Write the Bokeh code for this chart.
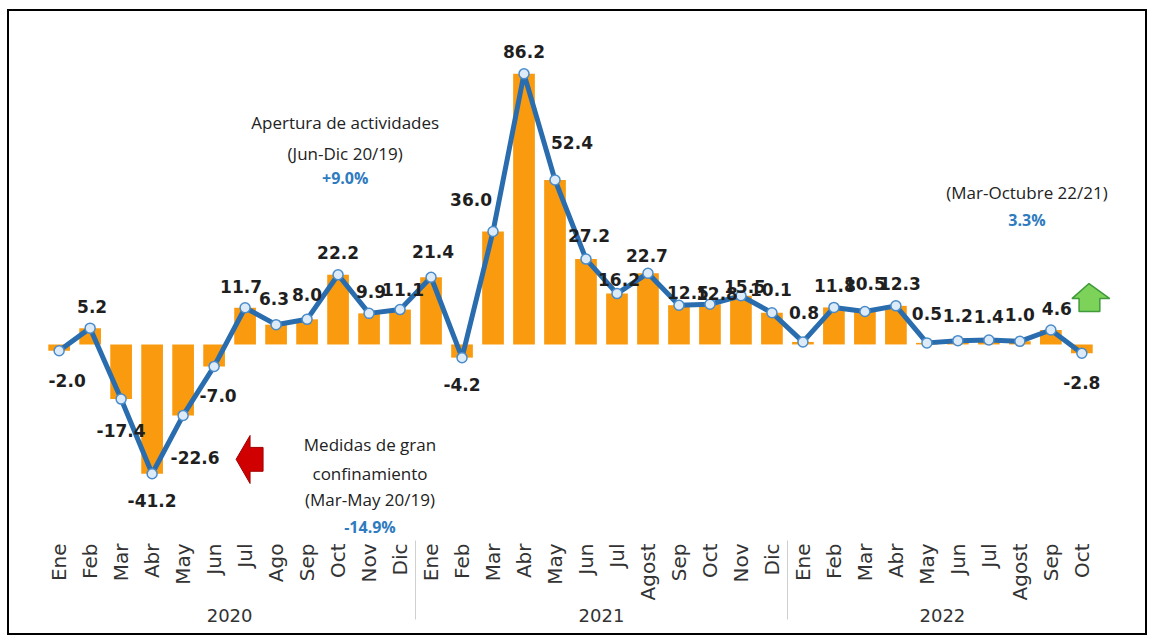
import math
from bokeh.plotting import figure
from bokeh.models import FactorRange, ColumnDataSource, Label, Range1d
from bokeh.embed import file_html
from bokeh.resources import INLINE
from bokeh.core.properties import value

# ---------------- data ----------------
years = ["2020"] * 12 + ["2021"] * 12 + ["2022"] * 10
months = ["Ene", "Feb", "Mar", "Abr", "May", "Jun", "Jul", "Ago", "Sep", "Oct", "Nov", "Dic",
          "Ene", "Feb", "Mar", "Abr", "May", "Jun", "Jul", "Agost", "Sep", "Oct", "Nov", "Dic",
          "Ene", "Feb", "Mar", "Abr", "May", "Jun", "Jul", "Agost", "Sep", "Oct"]
growth = [-2.0, 5.2, -17.4, -41.2, -22.6, -7.0, 11.7, 6.3, 8.0, 22.2, 9.9, 11.1,
          21.4, -4.2, 36.0, 86.2, 52.4, 27.2, 16.2, 22.7, 12.5, 12.8, 15.5, 10.1,
          0.8, 11.8, 10.5, 12.3, 0.5, 1.2, 1.4, 1.0, 4.6, -2.8]

# label nudges in screen pixels (positive dy = downwards)
label_dx = [8, 2, 0, 0, 12, 4, -4, -2, 0, 0, 2, 3,
            2, 0, -22, 0, 17, 3, 2, -1, 9, 7, 4, -1,
            1, 1, 0, 4, 0, 0, 0, 0, 6, 0]
label_dy = [30, -22, 31, 27, 42, 29, -21, -26, -25, -22, -22, -20,
            -26, 27, -32, -22, -37, -24, -14, -18, -13, -11, -9, -23,
            -29, -22, -28, -22, -29, -25, -24, -27, -22, 29]

factors = list(zip(years, months))
src = ColumnDataSource(dict(
    x=factors,
    v=growth,
    txt=[f"{g:.1f}" for g in growth],
    dx=label_dx,
    dy=label_dy,
))

# ---------------- figure ----------------
p = figure(
    x_range=FactorRange(factors=factors, factor_padding=0, group_padding=0,
                        range_padding=0.65, range_padding_units="absolute"),
    y_range=Range1d(-61.5, 103.2),
    width=1140, height=626,
    output_backend="svg", toolbar_location=None, y_axis_location=None,
    min_border_left=14, min_border_right=32, min_border_top=9, min_border_bottom=100,
)
p.styles = {"border": "2px solid black", "margin-left": "7px", "margin-top": "9px"}
p.outline_line_color = None
p.xgrid.visible = False
p.ygrid.visible = False
p.background_fill_color = "white"
p.border_fill_color = "white"

ax = p.xaxis[0]
ax.axis_line_color = None
ax.major_tick_line_color = None
ax.minor_tick_line_color = None
ax.major_tick_out = 0
ax.major_label_orientation = math.pi / 2
ax.major_label_standoff = 6
ax.major_label_text_font = "DejaVu Sans"
ax.major_label_text_font_size = "20px"
ax.major_label_text_color = "#333333"
ax.group_text_font = "DejaVu Sans"
ax.group_text_font_size = "18px"
ax.group_text_font_style = "normal"
ax.group_text_color = "#333333"
ax.separator_line_color = "#cfcfcf"
ax.separator_line_width = 1

# bars
p.vbar(x="x", top="v", bottom=0, width=0.7, source=src, fill_color="#FA9B0F", line_color=None)

# line + markers
p.line(x="x", y="v", source=src, line_color="#2A6DAE", line_width=5, line_join="round")
p.scatter(x="x", y="v", source=src, size=10, marker="circle",
          fill_color="#DDEBF8", line_color="#4A8BC9", line_width=1.5)

# value labels
p.text(x="x", y="v", text="txt", source=src, x_offset="dx", y_offset="dy",
       text_align="center", text_baseline="middle",
       text_font=value("DejaVu Sans"), text_font_style="bold",
       text_font_size="17px", text_color="#1f1f1f")

# arrows
p.patch(x=[6.21, 6.66, 6.66, 7.08, 7.08, 6.66, 6.66],
        y=[-36.6, -29.0, -32.8, -32.8, -40.4, -40.4, -44.3],
        fill_color="#D00000", line_color="#A00000", line_width=1)
p.patch(x=[33.73, 34.40, 34.08, 34.08, 33.41, 33.41, 33.18],
        y=[19.4, 14.6, 14.6, 10.5, 10.5, 14.6, 14.6],
        fill_color="#7DD35A", line_color="#3E9A3A", line_width=1.5)

# annotation texts
def note(x, y, text, color="#222222", bold=False, size="17px"):
    p.add_layout(Label(x=x, y=y, text=text, text_align="center", text_baseline="middle",
                       text_font="Open Sans", text_font_size=size,
                       text_font_style="bold" if bold else "normal", text_color=color))

note(9.73, 70.7, "Apertura de actividades")
note(9.73, 60.8, "(Jun-Dic 20/19)")
note(9.73, 52.9, "+9.0%", color="#2F7BBF", bold=True, size="16px")

note(31.73, 48.4, "(Mar-Octubre 22/21)")
note(31.73, 39.5, "3.3%", color="#2F7BBF", bold=True, size="16px")

note(10.53, -31.8, "Medidas de gran")
note(10.53, -41.1, "confinamiento")
note(10.53, -49.4, "(Mar-May 20/19)")
note(10.53, -58.0, "-14.9%", color="#2F7BBF", bold=True, size="16px")

open("out.html", "w").write(file_html(p, INLINE))
